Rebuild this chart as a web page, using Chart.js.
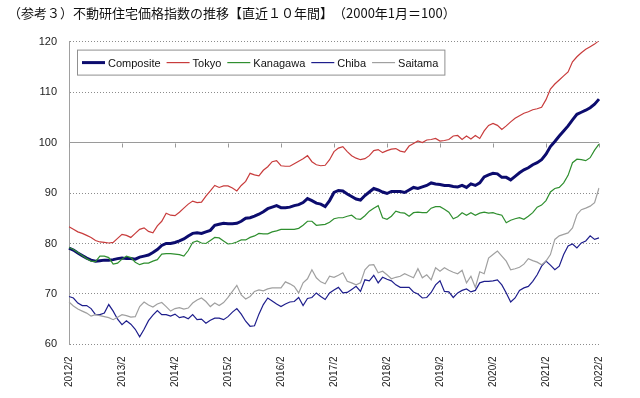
<!DOCTYPE html>
<html>
<head>
<meta charset="utf-8">
<script src="https://cdn.jsdelivr.net/npm/chart.js@4.4.1/dist/chart.umd.min.js"></script>
<style>
html, body { margin: 0; padding: 0; background: #fff; }
</style>
</head>
<body>
<canvas id="myChart" width="640" height="398"></canvas>
<script>
const titleText = '（参考３）不動研住宅価格指数の推移【直近１０年間】　（2000年1月＝100）';
const yearTicks = ['2012/2', '2013/2', '2014/2', '2015/2', '2016/2', '2017/2', '2018/2', '2019/2', '2020/2', '2021/2', '2022/2'];
const seriesNames = ['Composite', 'Tokyo', 'Kanagawa', 'Chiba', 'Saitama'];

// monthly index values, 2012/2 .. 2022/2 (121 months)
const composite = [
  79.1, 78.7, 78.1, 77.6, 77.1, 76.7, 76.5, 76.6, 76.7, 76.7, 76.8, 77.0,
  77.1, 77.0, 77.0, 76.9, 77.3, 77.5, 77.7, 78.2, 78.8, 79.6, 80.0, 80.0,
  80.2, 80.5, 80.9, 81.5, 82.0, 82.1, 82.0, 82.3, 82.6, 83.6, 83.8, 84.0,
  83.9, 83.9, 84.0, 84.4, 85.0, 85.1, 85.4, 85.8, 86.3, 86.9, 87.2, 87.5,
  87.1, 87.1, 87.2, 87.5, 87.7, 88.1, 88.9, 88.5, 88.0, 87.8, 87.3, 88.5,
  90.1, 90.5, 90.4, 89.8, 89.3, 88.8, 88.6, 89.5, 90.2, 90.9, 90.6, 90.2,
  89.9, 90.3, 90.3, 90.3, 90.1, 90.6, 91.1, 90.9, 91.2, 91.5, 92.0, 91.8,
  91.7, 91.5, 91.5, 91.3, 91.2, 91.5, 91.1, 91.8, 91.5, 92.0, 93.2, 93.6,
  93.9, 93.8, 93.1, 93.1, 92.6, 93.3, 94.0, 94.6, 95.0, 95.6, 96.0, 96.6,
  97.7, 99.2, 100.2, 101.3, 102.3, 103.3, 104.5, 105.6, 106.0, 106.4, 106.9, 107.6, 108.6
];
const tokyo = [
  83.3, 82.8, 82.3, 82.0, 81.6, 81.2, 80.6, 80.3, 80.2, 80.1, 80.2, 81.0,
  81.8, 81.6, 81.2, 82.0, 82.8, 83.1, 82.4, 82.1, 83.5, 84.4, 86.0, 85.6,
  85.5, 86.2, 87.0, 87.8, 88.4, 88.1, 88.2, 89.4, 90.4, 91.5, 91.1, 91.4,
  91.4, 91.0, 90.4, 91.5, 92.3, 93.9, 93.6, 93.4, 94.5, 95.2, 96.2, 96.4,
  95.4, 95.3, 95.3, 95.8, 96.3, 96.8, 97.4, 96.2, 95.6, 95.4, 95.5, 96.6,
  98.2, 98.9, 99.2, 98.2, 97.4, 96.9, 96.6, 96.8, 97.4, 98.4, 98.6, 98.0,
  98.4, 98.7, 98.8, 98.3, 98.1, 99.3, 99.8, 100.3, 100.0, 100.5, 100.6, 100.8,
  100.3, 100.4, 100.6, 101.3, 101.4, 100.6, 101.3, 100.7, 101.4, 100.8, 102.3, 103.4,
  103.8, 103.4, 102.6, 103.3, 104.1, 104.8, 105.3, 105.8, 106.1, 106.5, 106.7, 107.0,
  108.5, 110.6, 111.6, 112.4, 113.2, 114.0, 116.0, 117.0, 117.8, 118.5, 119.0, 119.5, 120.2
];
const kanagawa = [
  79.2, 78.8, 78.2, 77.6, 77.0, 76.5, 76.4, 77.5, 77.5, 77.2, 75.9, 76.1,
  76.9, 77.5, 77.2, 76.3, 75.8, 76.1, 76.1, 76.5, 76.8, 77.9, 78.0, 78.0,
  77.9, 77.8, 77.5, 78.6, 80.2, 80.5, 80.1, 80.0, 80.6, 81.2, 81.1, 80.5,
  79.9, 80.0, 80.3, 80.7, 80.7, 81.2, 81.5, 82.0, 81.9, 81.9, 82.3, 82.5,
  82.8, 82.8, 82.8, 82.8, 83.0, 83.6, 84.4, 84.4, 83.6, 83.7, 83.8, 84.2,
  84.9, 85.1, 85.1, 85.4, 85.6, 84.9, 84.8, 85.5, 86.4, 87.0, 87.5, 85.1,
  84.8, 85.4, 86.4, 86.1, 86.0, 85.4, 86.1, 86.2, 86.1, 86.1, 87.0, 87.3,
  87.3, 86.8, 86.2, 84.9, 85.3, 86.1, 85.6, 86.1, 85.6, 86.0, 86.2, 86.0,
  86.1, 85.8, 85.6, 84.1, 84.6, 84.9, 85.1, 84.8, 85.4, 86.1, 87.2, 87.6,
  88.5, 90.2, 90.9, 91.1, 92.0, 93.5, 96.0, 96.7, 96.6, 96.4, 97.0, 98.5, 99.7
];
const chiba = [
  69.5, 69.2, 68.2, 67.7, 67.7, 67.1, 65.9, 65.9, 66.2, 67.9, 66.6, 65.0,
  63.9, 64.7, 64.0, 63.0, 61.5, 63.0, 64.7, 65.8, 66.7, 65.9, 65.9, 65.6,
  66.0, 65.3, 65.5, 65.1, 65.9, 64.9, 65.0, 64.2, 64.8, 65.2, 65.2, 64.9,
  65.5, 66.4, 67.1, 66.0, 64.6, 63.6, 63.7, 66.0, 67.9, 69.2, 68.6, 68.0,
  67.5, 68.0, 68.4, 68.5, 69.3, 67.7, 69.1, 69.3, 70.2, 69.5, 68.9, 70.2,
  70.8, 71.3, 70.2, 70.3, 70.9, 71.5, 70.5, 72.8, 72.6, 73.7, 72.2, 73.3,
  72.9, 72.6, 71.8, 71.3, 71.3, 71.3, 70.4, 70.0, 69.2, 69.3, 70.3, 71.8,
  72.6, 70.5, 70.4, 69.3, 70.2, 70.7, 71.0, 70.4, 70.7, 72.2, 72.5, 72.5,
  72.6, 72.8, 71.8, 70.2, 68.4, 69.2, 70.7, 71.2, 71.5, 72.5, 73.8, 75.5,
  76.5, 75.7, 74.8, 75.5, 77.8, 79.5, 79.9, 79.1, 80.1, 80.5, 81.5, 80.8, 81.1
];
const saitama = [
  68.4, 67.6, 67.0, 66.6, 66.2, 65.6, 65.9, 65.7, 65.5, 65.3, 64.9, 65.4,
  65.9, 65.7, 65.4, 65.5, 67.5, 68.4, 67.8, 67.4, 68.0, 68.3, 67.5, 66.6,
  67.1, 67.3, 67.0, 67.2, 68.2, 68.8, 69.2, 68.5, 67.5, 68.2, 67.7, 68.3,
  69.3, 70.5, 71.7, 69.8, 69.0, 69.5, 70.5, 70.8, 70.6, 71.0, 71.2, 71.2,
  71.2, 72.4, 72.0, 71.5, 70.2, 72.2, 73.0, 74.8, 73.2, 72.4, 72.0, 73.5,
  73.3, 73.7, 74.2, 72.5, 72.2, 71.8, 72.2, 74.8, 75.7, 75.8, 74.2, 74.5,
  73.8, 73.0, 73.3, 73.5, 74.0, 73.6, 73.2, 75.0, 73.2, 73.8, 72.8, 75.2,
  74.5, 75.2, 74.7, 74.3, 74.0, 74.7, 72.2, 73.5, 71.3, 74.4, 74.0, 77.1,
  77.8, 78.5, 77.5, 76.5, 74.8, 75.0, 75.3, 75.9, 77.0, 76.6, 76.3, 75.8,
  76.5, 77.8, 80.8, 81.5, 81.8, 82.1, 83.1, 85.7, 86.7, 87.0, 87.4, 88.1, 91.0
];

// category labels: one per month
const months = [];
for (let y = 2012; y <= 2022; y++) {
  for (let m = 1; m <= 12; m++) {
    if (y === 2012 && m < 2) continue;
    if (y === 2022 && m > 2) continue;
    months.push(y + '/' + m);
  }
}

const lineColors = ['#0c0c6e', '#c83c3c', '#2f8f2f', '#1e1e8c', '#a0a0a0'];
const lineWidths = [3, 1.2, 1.2, 1.2, 1.2];
const values = [composite, tokyo, kanagawa, chiba, saitama];

// legend drawn as a framed box inside the plot, like the original
const boxLegend = {
  id: 'boxLegend',
  afterDraw(chart) {
    const { ctx, chartArea } = chart;
    ctx.save();
    ctx.font = "11px 'Liberation Sans', Arial, sans-serif";
    const x0 = chartArea.left + 8, y0 = chartArea.top + 8, h = 25;
    let w = 5;
    chart.data.datasets.forEach(ds => { w += 26 + ctx.measureText(ds.label).width + 6; });
    ctx.fillStyle = '#fff';
    ctx.fillRect(x0, y0, w, h);
    ctx.strokeStyle = '#909090';
    ctx.lineWidth = 1;
    ctx.strokeRect(x0 + 0.5, y0 + 0.5, w, h);
    let x = x0 + 5;
    const yc = y0 + h / 2 + 0.5;
    chart.data.datasets.forEach(ds => {
      ctx.strokeStyle = ds.borderColor;
      ctx.lineWidth = ds.borderWidth;
      ctx.beginPath();
      ctx.moveTo(x, yc);
      ctx.lineTo(x + 23, yc);
      ctx.stroke();
      x += 26;
      ctx.fillStyle = '#111';
      ctx.textBaseline = 'middle';
      ctx.fillText(ds.label, x, yc + 1);
      x += ctx.measureText(ds.label).width + 6;
    });
    ctx.restore();
  }
};

// small year ticks hanging from the 100 line
const yearMarks = {
  id: 'yearMarks',
  beforeDatasetsDraw(chart) {
    const { ctx, scales } = chart;
    const yp = Math.round(scales.y.getPixelForValue(100)) + 0.5;
    ctx.save();
    ctx.strokeStyle = '#999';
    ctx.lineWidth = 1;
    months.forEach((m, i) => {
      if (!yearTicks.includes(m)) return;
      const xp = Math.round(scales.x.getPixelForValue(i)) + 0.5;
      ctx.beginPath();
      ctx.moveTo(xp, yp);
      ctx.lineTo(xp, yp + 4);
      ctx.stroke();
    });
    ctx.restore();
  }
};

Chart.defaults.font.family = "'Liberation Sans', Arial, sans-serif";
Chart.defaults.color = '#222';

const data = {
  labels: months,
  datasets: seriesNames.map((name, k) => ({
    label: name,
    data: values[k],
    borderColor: lineColors[k],
    backgroundColor: lineColors[k],
    borderWidth: lineWidths[k],
    pointRadius: 0,
    tension: 0,
    order: seriesNames.length - k
  }))
};

const config = {
  type: 'line',
  data: data,
  options: {
    responsive: false,
    animation: false,
    layout: { padding: { left: 8, right: 41, top: 0, bottom: 7 } },
    plugins: {
      legend: { display: false },
      tooltip: { enabled: false },
      title: {
        display: true,
        text: titleText,
        align: 'start',
        color: '#111',
        font: { family: "'Noto Sans CJK JP', sans-serif", size: 13, weight: 'normal' },
        padding: { top: 5, bottom: 21 }
      }
    },
    scales: {
      x: {
        type: 'category',
        offset: false,
        grid: { display: false },
        border: { display: false },
        ticks: {
          autoSkip: false,
          maxRotation: 90,
          minRotation: 90,
          padding: 4,
          font: { size: 10 },
          callback: function (val) {
            const l = this.getLabelForValue(val);
            return yearTicks.includes(l) ? l : '';
          }
        }
      },
      y: {
        min: 60,
        max: 120,
        afterFit(scale) { scale.width = 61; },
        ticks: { stepSize: 10, padding: 12, font: { size: 11 } },
        grid: {
          drawTicks: false,
          color: c => (c.tick && c.tick.value === 100) ? '#9a9a9a' : '#8c8c8c'
        },
        border: {
          display: true,
          color: '#a0a0a0',
          dash: c => (c.tick && c.tick.value !== 100) ? [1, 2] : []
        }
      }
    }
  },
  plugins: [yearMarks, boxLegend]
};

const myChart = new Chart(document.getElementById('myChart'), config);
</script>
</body>
</html>
